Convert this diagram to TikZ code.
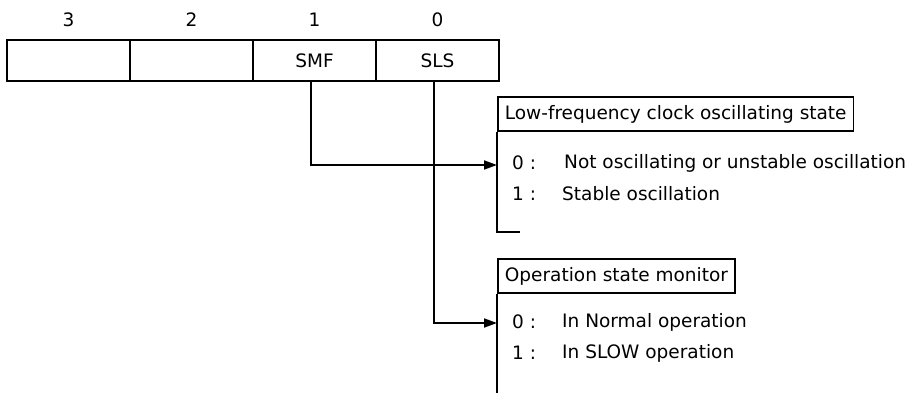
\documentclass[tikz,border=0pt]{standalone}
\usepackage{fontspec}
\setmainfont{DejaVu Sans}
\usetikzlibrary{arrows.meta}
\tikzset{
  cell/.style={draw, line width=1.8pt, minimum width=123pt, minimum height=41pt, inner sep=0pt},
  lbl/.style={font=\fontsize{18.5}{22}\selectfont, inner sep=0pt},
  hdr/.style={draw, line width=1.8pt, font=\fontsize{18.5}{22}\selectfont, inner xsep=7pt, minimum height=34pt, anchor=north west},
  txt/.style={font=\fontsize{18.5}{22}\selectfont, inner sep=0pt, anchor=west},
  wire/.style={line width=1.8pt},
  arr/.style={line width=1.8pt, -{Triangle[length=13pt,width=9pt]}}
}
\begin{document}
\begin{tikzpicture}[x=1pt,y=-1pt]
\useasboundingbox (0,0) rectangle (913,393);
% register
\node[cell] (c3) at (68.5,60.5) {};
\node[cell] (c2) at (191.5,60.5) {};
\node[cell,lbl] (c1) at (314.5,60.5) {SMF};
\node[cell,lbl] (c0) at (437.5,60.5) {SLS};
\node[lbl] (b3) at (68.5,20) {3};
\node[lbl] (b2) at (191.5,20) {2};
\node[lbl] (b1) at (314.5,20) {1};
\node[lbl] (b0) at (437.5,20) {0};
% block 1
\node[hdr] (h1) at (497,96) {Low-frequency clock oscillating state};
\node[txt] (k10) at (512,163) {0 :};
\node[txt] (t10) at (564,163) {Not oscillating or unstable oscillation};
\node[txt] (k11) at (512,194) {1 :};
\node[txt] (t11) at (562,194) {Stable oscillation};
\coordinate (e1) at (520,232);
\draw[wire] (h1.south west) |- (e1);
% block 2
\node[hdr] (h2) at (497,258) {Operation state monitor};
\node[txt] (k20) at (512,322) {0 :};
\node[txt] (t20) at (562,322) {In Normal operation};
\node[txt] (k21) at (512,353) {1 :};
\node[txt] (t21) at (562,353) {In SLOW operation};
\coordinate (e2) at (497,393);
\draw[wire] (h2.south west) -- (e2);
% connectors
\coordinate (p1) at (h1.south west |- 0,165);
\coordinate (p2) at (h2.south west |- 0,323);
\draw[arr] ([xshift=-3.5pt]c1.south) |- (p1);
\draw[arr] ([xshift=-3.5pt]c0.south) |- (p2);
\end{tikzpicture}
\end{document}
